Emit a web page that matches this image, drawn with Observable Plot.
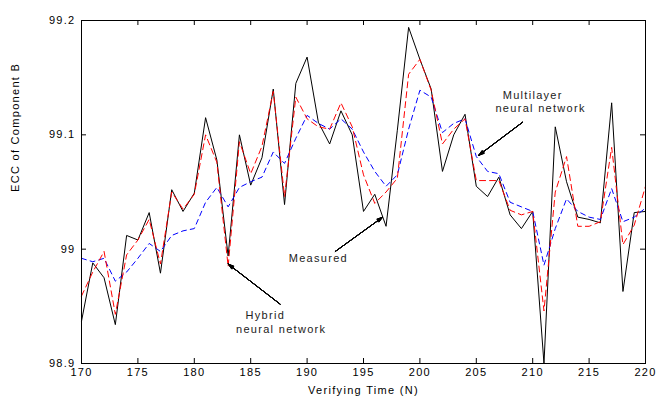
<!DOCTYPE html>
<html>
<head>
<meta charset="utf-8">
<script src="https://cdn.jsdelivr.net/npm/d3@7"></script>
<script src="https://cdn.jsdelivr.net/npm/@observablehq/plot@0.6"></script>
<style>
  html, body { margin: 0; padding: 0; background: #fff; }
  #chart svg { display: block; }
</style>
</head>
<body>
<div id="chart"></div>
<script>
// Verifying time (N)
const time = [170,171,172,173,174,175,176,177,178,179,180,181,182,183,184,185,186,187,188,189,190,
  191,192,193,194,195,196,197,198,199,200,201,202,203,204,205,206,207,208,209,210,
  211,212,213,214,215,216,217,218,219,220];

// Measured ECC of component B
const measured = [98.937,98.988,98.975,98.934,99.012,99.008,99.032,98.979,99.052,99.033,99.049,
  99.115,99.078,98.994,99.100,99.056,99.080,99.140,99.039,99.145,99.168,
  99.111,99.092,99.121,99.100,99.033,99.048,99.020,99.104,99.194,99.166,
  99.140,99.068,99.100,99.118,99.055,99.046,99.063,99.030,99.018,99.033,
  98.900,99.107,99.059,99.028,99.026,99.023,99.128,98.963,99.032,99.033];

// Hybrid neural network prediction
const hybrid = [98.959,98.980,98.998,98.943,98.995,99.008,99.026,98.987,99.050,99.035,99.048,
  99.100,99.076,98.985,99.094,99.066,99.090,99.138,99.046,99.133,99.114,
  99.107,99.105,99.128,99.107,99.065,99.040,99.050,99.062,99.153,99.166,
  99.139,99.092,99.105,99.114,99.060,99.060,99.060,99.034,99.030,99.033,
  98.946,99.050,99.081,99.020,99.020,99.024,99.089,99.004,99.021,99.055];

// Multilayer neural network prediction
const multilayer = [98.992,98.989,98.992,98.972,98.980,98.992,99.005,98.998,99.012,99.016,99.018,
  99.041,99.054,99.037,99.054,99.059,99.063,99.085,99.075,99.097,99.117,
  99.110,99.105,99.114,99.105,99.085,99.068,99.055,99.065,99.105,99.139,
  99.133,99.102,99.110,99.114,99.081,99.068,99.066,99.041,99.037,99.033,
  98.986,99.018,99.044,99.033,99.028,99.026,99.053,99.024,99.028,99.036];

// Tick labels
const xTicks = [170,175,180,185,190,195,200,205,210,215,220];
const yTicks = [98.9, 99.0, 99.1, 99.2];

// Annotation texts (anchored in data coordinates)
const labelTexts = ["Multilayer", "neural network", "Measured", "Hybrid", "neural network"];
const labelX = [210.0, 210.7, 191.0, 186.3, 187.7];
const labelY = [99.134, 99.123, 98.992, 98.942, 98.930];
// Annotation arrows: from (x1,y1) to (x2,y2)
const arrowX1 = [209.1, 192.5, 187.6];
const arrowY1 = [99.111, 98.998, 98.952];
const arrowX2 = [205.2, 196.7, 183.0];
const arrowY2 = [99.082, 99.028, 98.987];

const toRows = (vals) => time.map((t, i) => ({t, v: vals[i]}));
const labels = labelTexts.map((text, i) => ({text, x: labelX[i], y: labelY[i]}));
const arrows = arrowX1.map((x1, i) => ({x1, y1: arrowY1[i], x2: arrowX2[i], y2: arrowY2[i]}));

const W = 656, H = 399;
const mL = 81, mR = 11, mT = 20, mB = 36;
const fw = W - mL - mR, fh = H - mT - mB;
const TICK = 5;
const font = "'Liberation Sans', Arial, sans-serif";

// stacked arrow heads with decreasing angles give a filled head
const headAngles = [36, 30, 24, 18, 12, 6];
const arrowMarks = headAngles.map(a =>
  Plot.arrow(arrows, {x1: "x1", y1: "y1", x2: "x2", y2: "y2", stroke: "#000", strokeWidth: 1, headLength: 9, headAngle: a})
);

const chart = Plot.plot({
  width: W,
  height: H,
  marginLeft: mL,
  marginRight: mR,
  marginTop: mT,
  marginBottom: mB,
  style: {fontFamily: font, fontSize: "11px", color: "#000", background: "#fff", letterSpacing: "1.3px"},
  x: {domain: [170, 220]},
  y: {domain: [98.9, 99.2]},
  marks: [
    Plot.axisX({ticks: xTicks, tickSize: 0, tickPadding: 5, label: null, tickFormat: d => String(d)}),
    Plot.axisY({ticks: yTicks, tickSize: 0, tickPadding: 6, label: null, tickFormat: d => String(+d.toFixed(1))}),
    // inward ticks on all four sides
    Plot.tickX(xTicks, {x: d => d, insetTop: fh - TICK, stroke: "#000"}),
    Plot.tickX(xTicks, {x: d => d, insetBottom: fh - TICK, stroke: "#000"}),
    Plot.tickY(yTicks, {y: d => d, insetRight: fw - TICK, stroke: "#000"}),
    Plot.tickY(yTicks, {y: d => d, insetLeft: fw - TICK, stroke: "#000"}),
    Plot.line(toRows(measured), {x: "t", y: "v", stroke: "#000", strokeWidth: 1}),
    Plot.line(toRows(multilayer), {x: "t", y: "v", stroke: "#0000ff", strokeWidth: 1, strokeDasharray: "5,4"}),
    Plot.line(toRows(hybrid), {x: "t", y: "v", stroke: "#ff0000", strokeWidth: 1, strokeDasharray: "6,4"}),
    Plot.frame({stroke: "#000", strokeWidth: 1}),
    ...arrowMarks,
    Plot.text(labels, {x: "x", y: "y", text: "text", fill: "#222", fontSize: 11, textAnchor: "middle"}),
    Plot.text(["ECC of Component B"], {frameAnchor: "left", rotate: -90, dx: -66, fill: "#000", fontSize: 11, style: {letterSpacing: "0px"}}),
    Plot.text(["Verifying Time (N)"], {frameAnchor: "bottom", dy: 30, fill: "#000", fontSize: 11})
  ]
});
document.getElementById("chart").appendChild(chart);
</script>
</body>
</html>
